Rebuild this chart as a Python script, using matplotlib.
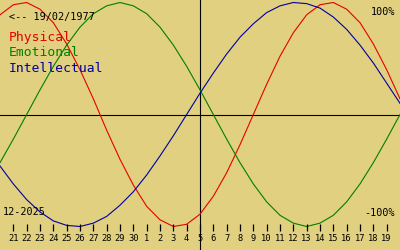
import matplotlib
matplotlib.use("Agg")
import matplotlib.pyplot as plt

# biorhythm values, one per day, from 20 Nov to 20 Dec 2025 (today = 5 Dec in the middle)
days = list(range(-15, 16))
physical = [0.89, 0.98, 1.00, 0.94, 0.82, 0.63, 0.40, 0.14, -0.14, -0.40, -0.63,
            -0.82, -0.94, -1.00, -0.98, -0.89, -0.73, -0.52, -0.27, 0.00, 0.27,
            0.52, 0.73, 0.89, 0.98, 1.00, 0.94, 0.82, 0.63, 0.40, 0.14]
emotional = [-0.43, -0.22, 0.00, 0.22, 0.43, 0.62, 0.78, 0.90, 0.97, 1.00, 0.97,
             0.90, 0.78, 0.62, 0.43, 0.22, 0.00, -0.22, -0.43, -0.62, -0.78,
             -0.90, -0.97, -1.00, -0.97, -0.90, -0.78, -0.62, -0.43, -0.22, 0.00]
intellectual = [-0.46, -0.62, -0.76, -0.87, -0.95, -0.99, -1.00, -0.97, -0.91, -0.81,
                -0.69, -0.54, -0.37, -0.19, 0.00, 0.19, 0.37, 0.54, 0.69, 0.81,
                0.91, 0.97, 1.00, 0.99, 0.95, 0.87, 0.76, 0.62, 0.46, 0.28, 0.10]
tick_days = list(range(-14, 15))
tick_labels = [str(d) for d in range(21, 31)] + [str(d) for d in range(1, 20)]

BG = "#e0d080"
RED = "#e80000"
GREEN = "#008000"
BLUE = "#0000a0"
MONO = "DejaVu Sans Mono"

fig = plt.figure(figsize=(4, 2.5), dpi=100, facecolor=BG)
ax = fig.add_axes([0, 0, 1, 1])
ax.set_facecolor(BG)
ax.set_xlim(-15, 15)
# pixel row 114.5 is zero, 112 px per unit
ax.set_ylim(-135.5 / 112, 114.5 / 112)
ax.axis("off")

lw = 0.8
ax.axhline(0, color="black", lw=lw)
ax.axvline(0, color="black", lw=lw)
ax.plot(days, physical, color=RED, lw=lw)
ax.plot(days, emotional, color=GREEN, lw=lw)
ax.plot(days, intellectual, color=BLUE, lw=lw)

# day ticks along the bottom
ax.vlines(tick_days, -0.975, -1.04, color="black", lw=0.9)
for d, lab in zip(tick_days, tick_labels):
    ax.text(d, -1.107, lab, ha="center", va="center", fontsize=6.3,
            family=MONO, color="black")


def px(x, y):
    return x / 400, 1 - y / 250


fig.text(*px(9, 17), "<-- 19/02/1977", fontsize=7.3, family=MONO, va="center")
fig.text(*px(9, 38), "Physical", fontsize=9.4, family=MONO, color=RED, va="center")
fig.text(*px(9, 53), "Emotional", fontsize=9.4, family=MONO, color=GREEN, va="center")
fig.text(*px(9, 68), "Intellectual", fontsize=9.4, family=MONO, color=BLUE, va="center")
fig.text(*px(3, 212), "12-2025", fontsize=7.3, family=MONO, va="center")
fig.text(*px(395, 12), "100%", fontsize=7.3, family=MONO, va="center", ha="right")
fig.text(*px(395, 213), "-100%", fontsize=7.3, family=MONO, va="center", ha="right")

fig.savefig("out.png", dpi=100, facecolor=BG)
